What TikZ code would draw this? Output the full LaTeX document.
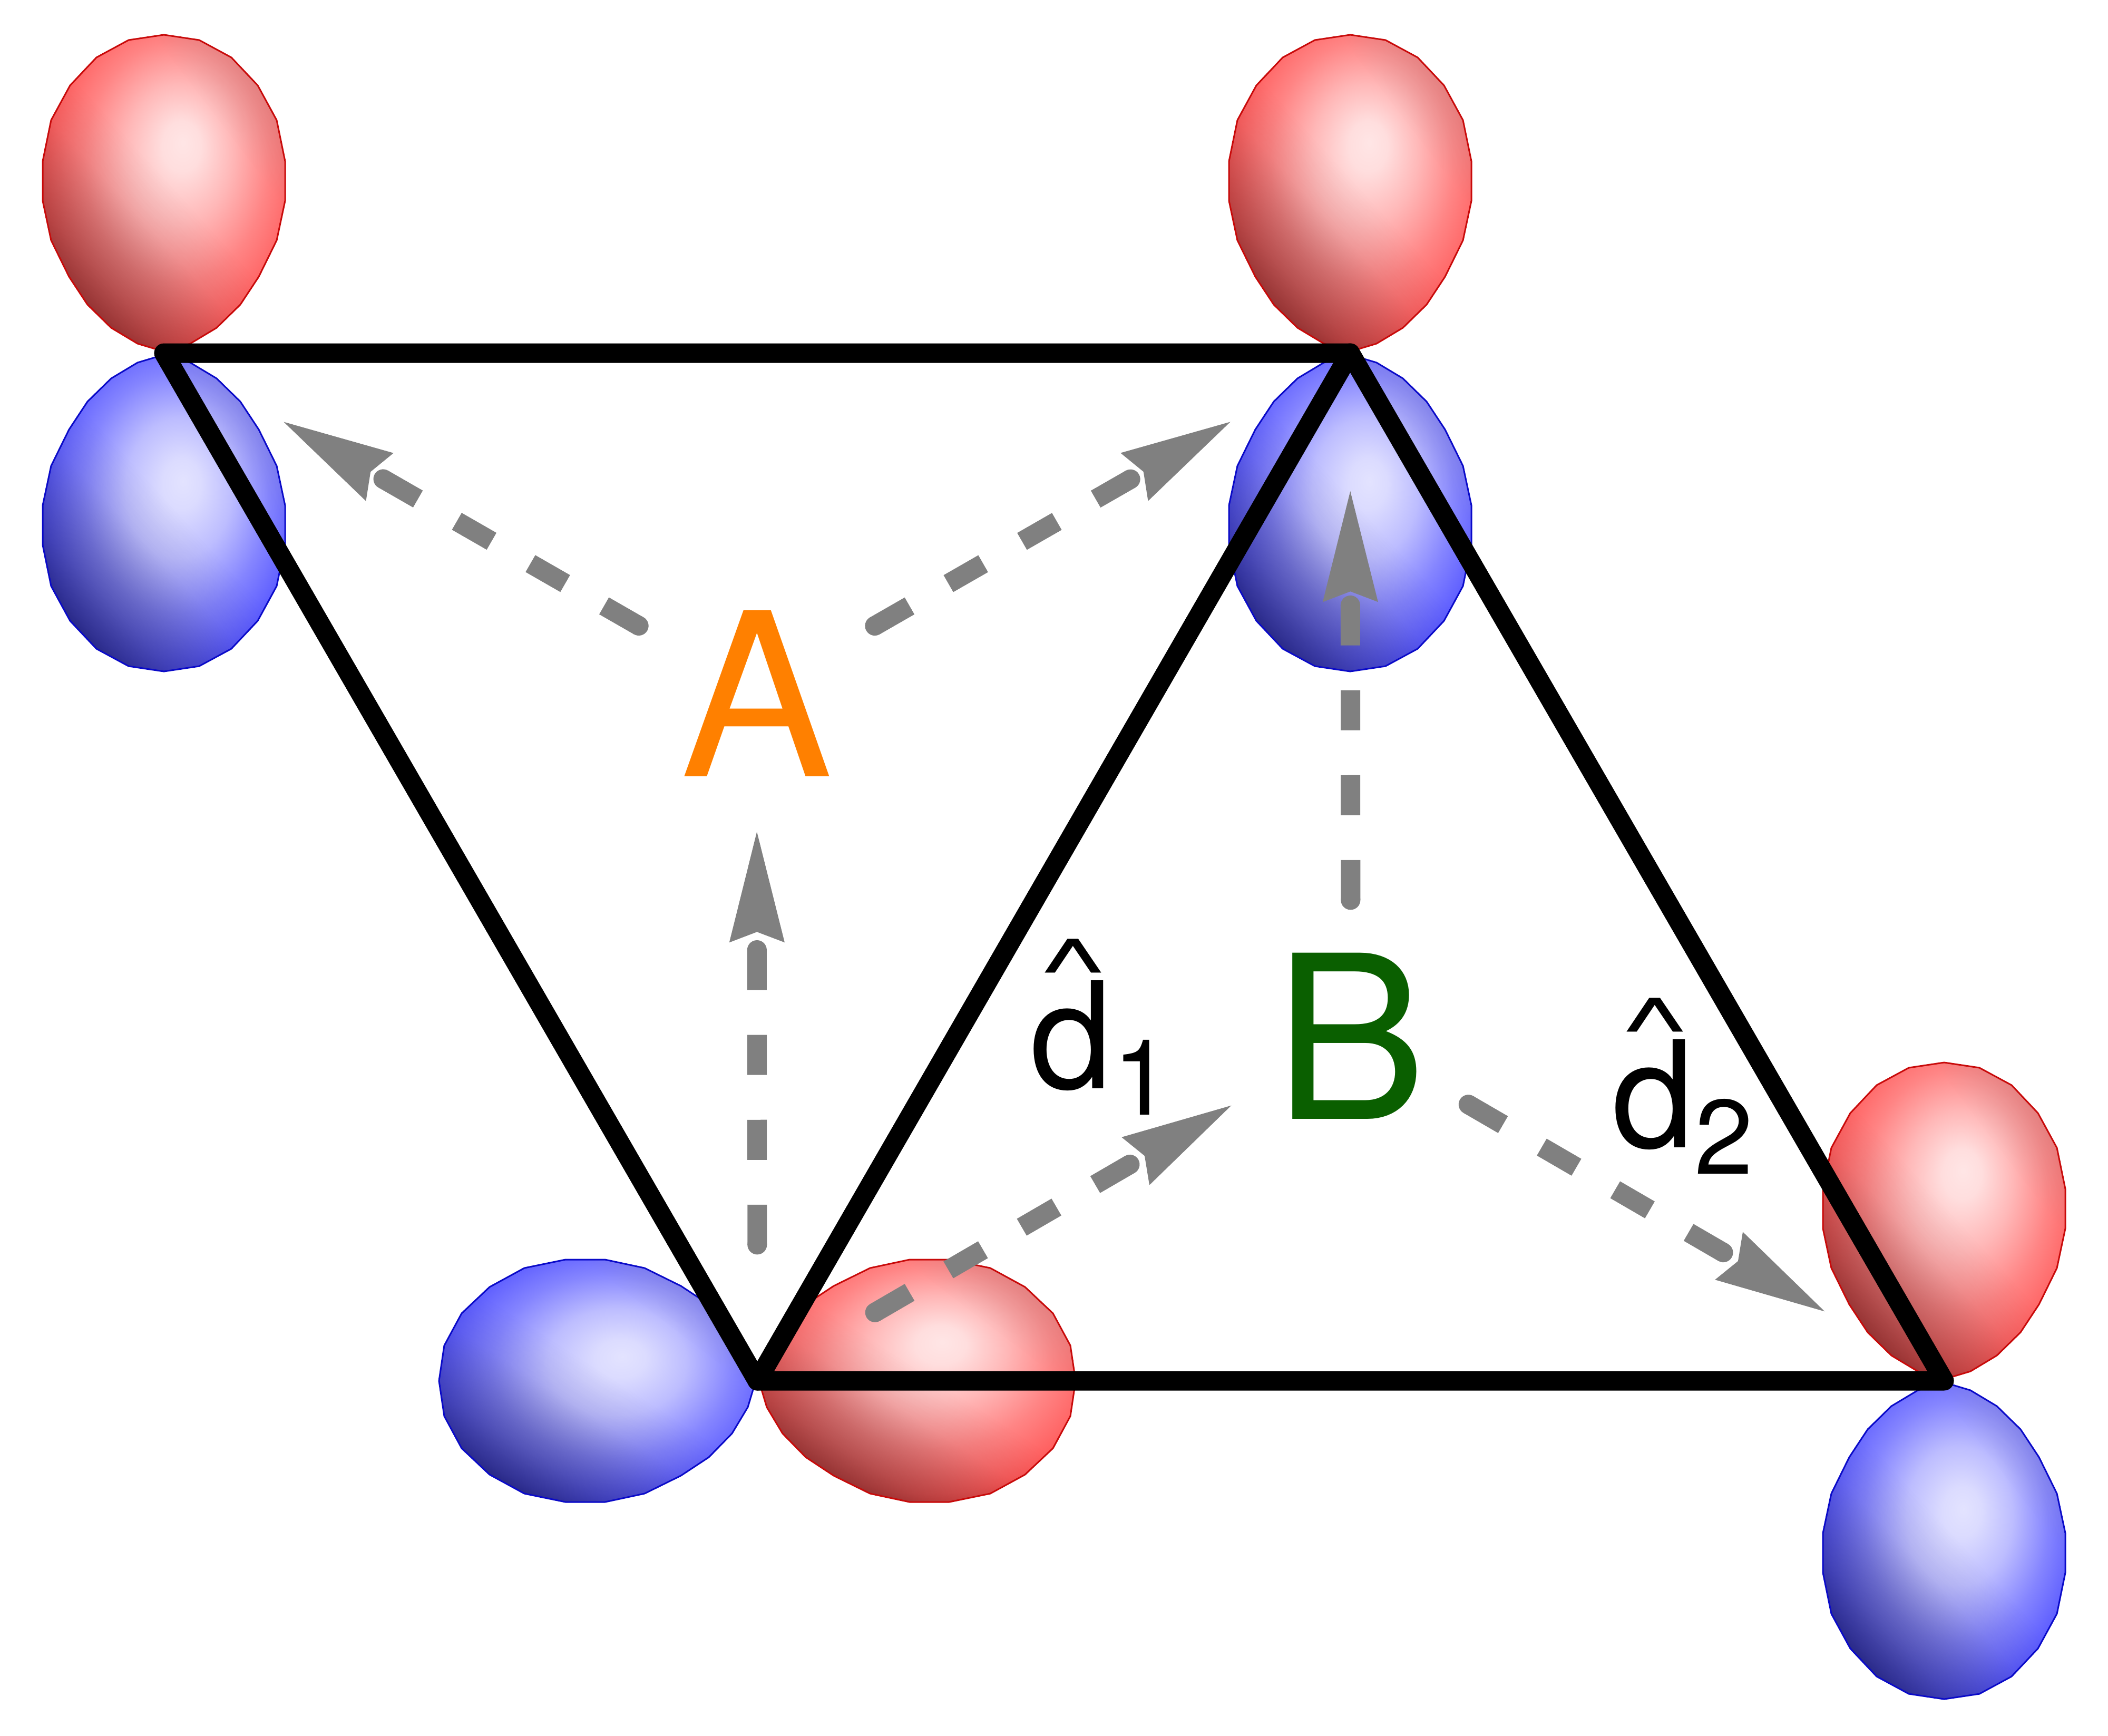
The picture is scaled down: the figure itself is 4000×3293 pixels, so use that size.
\documentclass[tikz,border=0pt]{standalone}
\usepackage{fontspec}
\setmainfont{TeX Gyre Heros}
\usepackage{graphicx}
\usetikzlibrary{arrows.meta,fadings}

\definecolor{labelorange}{RGB}{255,128,0}
\definecolor{labelgreen}{RGB}{10,95,0}
\definecolor{arrowgray}{RGB}{128,128,128}
\definecolor{edgered}{RGB}{200,10,10}
\definecolor{edgeblue}{RGB}{10,10,200}

\pgfdeclareradialshading{lobered}{\pgfpoint{4bp}{8bp}}{%
  rgb(0bp)=(1,.9,.9); rgb(4bp)=(1,.87,.87); rgb(11bp)=(1,.72,.72);
  rgb(19bp)=(1,.52,.52); rgb(27bp)=(1,.36,.36); rgb(33bp)=(.95,.2,.2); rgb(38bp)=(.82,.06,.06); rgb(50bp)=(.8,.04,.04)}
\pgfdeclareradialshading{lobeblue}{\pgfpoint{4bp}{5bp}}{%
  rgb(0bp)=(.89,.89,1); rgb(4bp)=(.86,.86,1); rgb(11bp)=(.74,.74,1);
  rgb(19bp)=(.52,.52,1); rgb(27bp)=(.34,.34,1); rgb(33bp)=(.18,.18,.95); rgb(38bp)=(.05,.05,.82); rgb(50bp)=(.04,.04,.8)}
\pgfdeclareverticalshading{lobedarkramp}{100bp}{%
  gray(0bp)=(.8); gray(18bp)=(.62); gray(32bp)=(.28); gray(44bp)=(.06); gray(52bp)=(0); gray(100bp)=(0)}
\pgfdeclareverticalshading{lobegreyramp}{100bp}{%
  gray(0bp)=(.6); gray(16bp)=(.5); gray(26bp)=(.2); gray(34bp)=(0); gray(100bp)=(0)}
\pgfdeclarefading{lobedark}{\pgfuseshading{lobedarkramp}}
\pgfdeclarefading{lobegrey}{\pgfuseshading{lobegreyramp}}

\newcommand{\lobepath}{(0,-3) -- (50,-18) -- (100,-48) -- (145,-92) -- (180,-145) -- (214,-214)
  -- (230,-289) -- (230,-364) -- (214,-442) -- (178,-508) -- (128,-561) -- (67,-594) -- (0,-604)
  -- (-67,-594) -- (-128,-561) -- (-178,-508) -- (-214,-442) -- (-230,-364) -- (-230,-289)
  -- (-214,-214) -- (-180,-145) -- (-145,-92) -- (-100,-48) -- (-50,-18) -- cycle}
\newcommand{\dhat}[1]{\fontsize{80}{80}\selectfont
  \rlap{\hspace{.055em}\raisebox{.58em}{\scalebox{1}[.6]{\textasciicircum}}}d%
  \fontsize{57}{57}\selectfont\raisebox{-.25em}{#1}}

\begin{document}
\begin{tikzpicture}[
	x=.01cm, y=-.01cm,
	lobe/.pic={
		\shade[shading=lobe#1] \lobepath;
		\fill[black, path fading=lobedark, fading angle=-40] \lobepath;
		\fill[gray!85, path fading=lobegrey, fading angle=135] \lobepath;
		\draw[edge#1, line width=.03cm, line join=miter] \lobepath;
	},
	bond/.style= {draw=black,
				  line width=.37cm,
				  line join=round,
				  line cap=round
	},
	dashstroke/.style= {draw=arrowgray,
				  line width=.37cm,
				  dash pattern=on .76cm off .85cm,
				  shorten <=2.58cm,
				  shorten >=2.62cm,
				  -{Stealth[length=2.1cm,width=1.05cm,inset=.2cm,line width=0pt,color=arrowgray]}
	},
	dashcap/.style= {draw=arrowgray,
				  line width=.37cm,
				  line cap=round,
				  dash pattern=on .01pt off 5.59cm on .01pt off 30cm,
				  shorten <=2.58cm
	},
	latticelabel/.style= {font=\fontsize{123}{123}\selectfont,
				  inner sep=0pt
	},
	hatlabel/.style= {anchor=base west,
				  inner sep=0pt
	}
]
	\useasboundingbox (0,0) rectangle (4000,3293);
	\coordinate (siteTL) at (311,670);
	\coordinate (siteTM) at (2562,670);
	\coordinate (siteBM) at (1437,2620);
	\coordinate (siteBR) at (3689,2620);

	\pic at (siteTL) {lobe=red};
	\pic[rotate=180] at (siteTL) {lobe=blue};
	\pic at (siteTM) {lobe=red};
	\pic[rotate=180] at (siteTM) {lobe=blue};
	\pic[rotate=-90] at (siteBM) {lobe=red};
	\pic[rotate=90] at (siteBM) {lobe=blue};
	\pic at (siteBR) {lobe=red};
	\pic[rotate=180] at (siteBR) {lobe=blue};

	\draw[bond] (siteTL) -- (siteTM) -- (siteBM) -- cycle;
	\draw[bond] (siteTM) -- (siteBR) -- (siteBM);

	\node (A) [latticelabel, text=labelorange] at (1436,1316) {A};
	\node (B) [latticelabel, text=labelgreen] at (2563,1966) {B};
	\node (d1) [hatlabel] at (1954,2065) {\dhat{1}};
	\node (d2) [hatlabel] at (3058,2177) {\dhat{2}};

	\foreach \from/\to in {A/siteTL, A/siteTM, siteBM/A, siteBM/B, B/siteTM, B/siteBR} {
		\draw[dashstroke] (\from.center) -- (\to.center);
		\draw[dashcap] (\from.center) -- (\to.center);
	}
\end{tikzpicture}
\end{document}
